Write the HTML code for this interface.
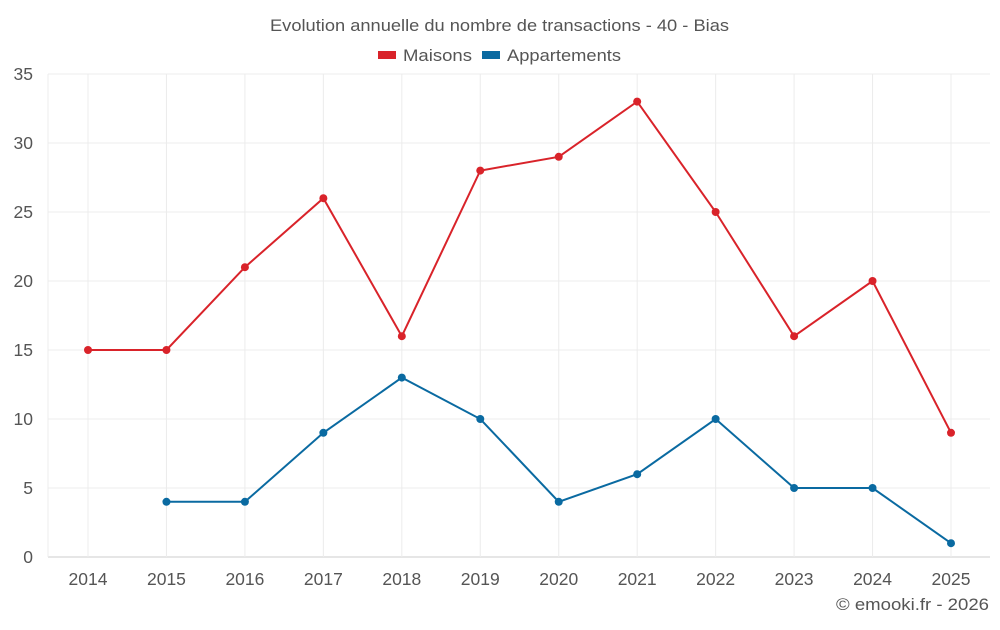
<!DOCTYPE html>
<html><head><meta charset="utf-8"><style>
body{margin:0;background:#fff;font-family:"Liberation Sans",sans-serif;}
svg text{font-family:"Liberation Sans",sans-serif;}
</style></head><body>
<svg id="chart" width="1000" height="625">
<text x="270" y="31" font-size="17" fill="#555" textLength="459" lengthAdjust="spacingAndGlyphs">Evolution annuelle du nombre de transactions - 40 - Bias</text>
<g>
<g><rect x="378" y="51" width="18" height="8" fill="#d9232a"/><text x="403" y="61" font-size="17" fill="#555" textLength="69" lengthAdjust="spacingAndGlyphs">Maisons</text></g>
<g><rect x="482" y="51" width="18" height="8" fill="#0a6aa1"/><text x="507" y="61" font-size="17" fill="#555" textLength="114" lengthAdjust="spacingAndGlyphs">Appartements</text></g>
</g>
<g id="grid"></g><g id="axes"></g><g id="series"></g>
<text x="989" y="610" text-anchor="end" font-size="17" fill="#555" textLength="153" lengthAdjust="spacingAndGlyphs">© emooki.fr - 2026</text>
</svg>
<script>
const years=[2014,2015,2016,2017,2018,2019,2020,2021,2022,2023,2024,2025];
const maisons=[15,15,21,26,16,28,29,33,25,16,20,9];
const appartements=[null,4,4,9,13,10,4,6,10,5,5,1];
const yTicks=[0,5,10,15,20,25,30,35];
const NS="http://www.w3.org/2000/svg";
const x0=48,x1=990,yb=557,yt=74;
const xs=i=>88+i*(951-88)/(years.length-1);
const ys=v=>yb-(v/35)*(yb-yt);
function mk(t,a,p){const e=document.createElementNS(NS,t);for(const k in a)e.setAttribute(k,a[k]);p.appendChild(e);return e;}
const g=document.getElementById('grid'),ax=document.getElementById('axes'),s=document.getElementById('series');
yTicks.forEach(v=>{
 const l=mk('line',{x1:x0,x2:x1,y1:ys(v),y2:ys(v),stroke:v===0?'#ccc':'#ececec'},g);
 
 
 const t=mk('text',{x:33,y:ys(v)+6,'text-anchor':'end','font-size':17.5,fill:'#555'},ax);t.textContent=v;
 
 
});
mk('line',{x1:x0,x2:x0,y1:yt,y2:yb,stroke:'#ececec'},g);
years.forEach((y,i)=>{
 const l=mk('line',{x1:xs(i),x2:xs(i),y1:yt,y2:yb,stroke:'#ececec'},g);
 
 
 const t=mk('text',{x:xs(i),y:585,'text-anchor':'middle','font-size':17.5,fill:'#555'},ax);t.textContent=y;
 
 
});
function draw(data,color,name){
 const pts=[];data.forEach((v,i)=>{if(v!=null)pts.push([xs(i),ys(v)]);});
 const p=mk('polyline',{points:pts.map(q=>q.join(',')).join(' '),fill:'none',stroke:color,'stroke-width':2},s);
 
 
 pts.forEach(q=>{const c=mk('circle',{cx:q[0],cy:q[1],r:4,fill:color},s);
 
 });
}
draw(maisons,'#d9232a','maisons');
draw(appartements,'#0a6aa1','appartements');
</script>
</body></html>
